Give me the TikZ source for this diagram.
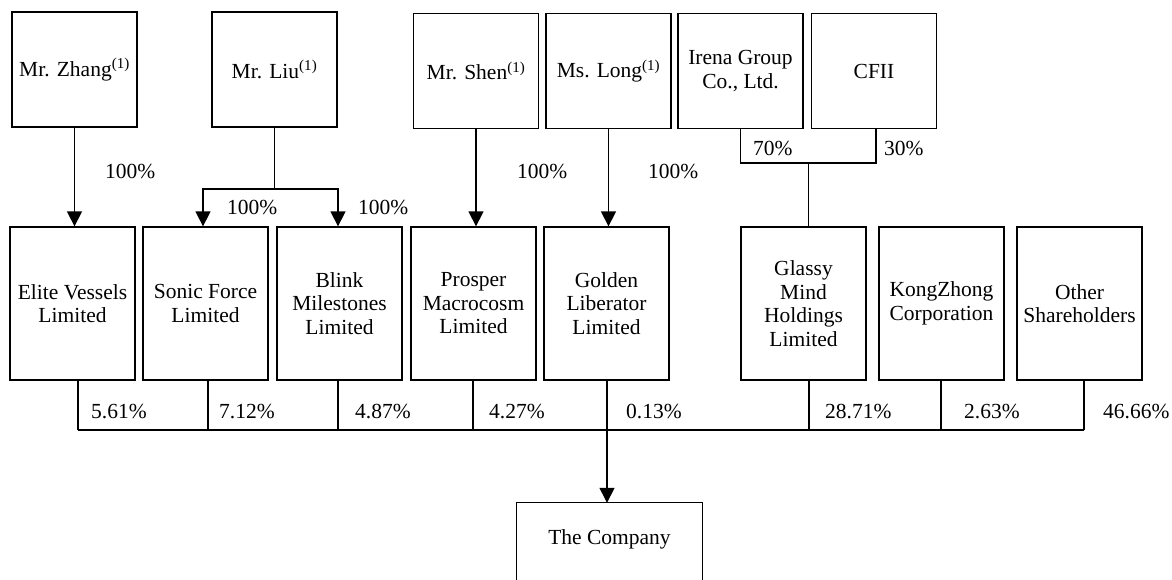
\documentclass[tikz,border=0pt]{standalone}
\usepackage{fontspec}
\setmainfont{Liberation Serif}
\usetikzlibrary{arrows.meta}
\begin{document}
\begin{tikzpicture}[x=1pt,y=-1pt,
  txt/.style={font=\fontsize{21.5}{23.5}\selectfont},
  box/.style={txt, draw, line width=1.3pt, minimum width=125pt, inner sep=0pt, align=center},
  topbox/.style={box, minimum height=115pt},
  midbox/.style={box, minimum height=153pt},
  lbl/.style={txt, anchor=base west, inner sep=0pt},
  ln/.style={line width=1.3pt},
  arr/.style={ln, -{Triangle[length=15pt,width=15pt]}}]
\useasboundingbox (0,0) rectangle (1172,579);
\clip (0,0) rectangle (1172,579);

% top row
\node[topbox] (zhang) at (74.5,69.5) {Mr. Zhang\textsuperscript{(1)}};
\node[topbox] (liu)   at (274.5,69.5) {Mr. Liu\textsuperscript{(1)}};
\node[topbox] (shen)  at (476,71) {Mr. Shen\textsuperscript{(1)}};
\node[topbox] (long)  at (608.5,71) {Ms. Long\textsuperscript{(1)}};
\node[topbox] (irena) at (740.5,71) {Irena Group\\Co., Ltd.};
\node[topbox] (cfii)  at (874,71) {CFII};

% middle row
\node[midbox] (elite)   at (72.5,303.5) {Elite Vessels\\Limited};
\node[midbox] (sonic)   at (205.5,303.5) {Sonic Force\\Limited};
\node[midbox] (blink)   at (339.5,303.5) {Blink\\Milestones\\Limited};
\node[midbox] (prosper) at (473.5,303.5) {Prosper\\Macrocosm\\Limited};
\node[midbox] (golden)  at (606.5,303.5) {Golden\\Liberator\\Limited};
\node[midbox] (glassy)  at (803.5,303.5) {Glassy\\Mind\\Holdings\\Limited};
\node[midbox] (kong)    at (941.5,303.5) {KongZhong\\Corporation};
\node[midbox] (other)   at (1079.5,303.5) {Other\\Shareholders};

% company (bottom edge cut off by the page)
\node[txt, minimum width=185pt, minimum height=72pt, inner sep=0pt] (company) at (609.5,539) {The Company};
\draw[ln] ([yshift=-30pt]company.south west) -- (company.north west) -- (company.north east) -- ([yshift=-30pt]company.south east);

% top connectors
\draw[arr] (zhang.south) -- (zhang.south |- elite.north);
\coordinate (lj) at (274.5,189);
\draw[ln] (liu.south) -- (lj);
\draw[arr] (lj) -| ([xshift=-2.5pt]sonic.north);
\draw[arr] (lj) -| ([xshift=-1.5pt]blink.north);
\draw[arr] (shen.south) -- (shen.south |- prosper.north);
\draw[arr] (long.south) -- (long.south |- golden.north);
\coordinate (gj) at (808.5,163);
\draw[ln] (irena.south) |- (gj) -| ([xshift=2pt]cfii.south);
\draw[ln] (gj) -- (gj |- glassy.north);

% bus to company
\coordinate (bus) at (0,430);
\draw[ln] ([xshift=5.5pt]elite.south) -- ([xshift=5.5pt]elite.south |- bus);
\draw[ln] ([xshift=2.5pt]sonic.south) -- ([xshift=2.5pt]sonic.south |- bus);
\draw[ln] ([xshift=-1.5pt]blink.south) -- ([xshift=-1.5pt]blink.south |- bus);
\draw[ln] ([xshift=-0.5pt]prosper.south) -- ([xshift=-0.5pt]prosper.south |- bus);
\draw[ln] ([xshift=5.5pt]glassy.south) -- ([xshift=5.5pt]glassy.south |- bus);
\draw[ln] ([xshift=-0.5pt]kong.south) -- ([xshift=-0.5pt]kong.south |- bus);
\draw[ln] ([xshift=4.5pt]other.south) -- ([xshift=4.5pt]other.south |- bus);
\draw[ln] ([xshift=5.5pt]elite.south |- bus) -- ([xshift=4.5pt]other.south |- bus);
\draw[arr] ([xshift=0.5pt]golden.south) -- ([xshift=0.5pt]golden.south |- company.north);

% labels
\node[lbl] (l1) at (105,178) {100\%};
\node[lbl] (l2) at (227,214) {100\%};
\node[lbl] (l3) at (358,214) {100\%};
\node[lbl] (l4) at (517,178) {100\%};
\node[lbl] (l5) at (648,178) {100\%};
\node[lbl] (l6) at (753,155) {70\%};
\node[lbl] (l7) at (884,155) {30\%};
\node[lbl] (b1) at (91,418) {5.61\%};
\node[lbl] (b2) at (219,418) {7.12\%};
\node[lbl] (b3) at (355,418) {4.87\%};
\node[lbl] (b4) at (489,418) {4.27\%};
\node[lbl] (b5) at (626,418) {0.13\%};
\node[lbl] (b6) at (825,418) {28.71\%};
\node[lbl] (b7) at (964,418) {2.63\%};
\node[lbl] (b8) at (1103,418) {46.66\%};
\end{tikzpicture}
\end{document}
